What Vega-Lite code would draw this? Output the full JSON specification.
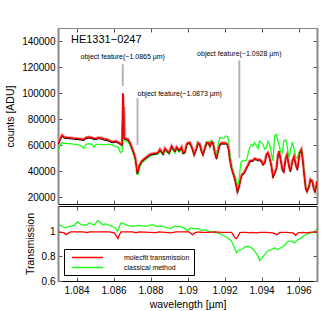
{
"$schema": "https://vega.github.io/schema/vega-lite/v6.json",
"padding": {"top": 27, "left": 5, "right": 5, "bottom": 5},
"spacing": 0,
"resolve": {"scale": {"color": "independent"}, "legend": {"color": "independent"}},
"config": {
  "font": "Liberation Sans",
  "view": {"stroke": "#888", "strokeWidth": 1},
  "axis": {"labelFontSize": 10, "titleFontSize": 10.5, "titleFontWeight": "normal", "labelColor": "#000", "titleColor": "#000", "grid": false, "tickColor": "#555", "tickSize": -4, "labelPadding": 7, "titlePadding": 6}
},
"datasets": {
  "spec": [
{"w":1.08303,"R":61800,"G":56400,"K":61000,"S":61800},
{"w":1.08311,"R":64900,"G":60300,"K":64100,"S":64900},
{"w":1.08322,"R":67900,"G":62000,"K":67100,"S":67900},
{"w":1.08332,"R":66400,"G":61600,"K":65600,"S":66400},
{"w":1.08349,"R":66000,"G":61400,"K":65200,"S":66000},
{"w":1.08365,"R":65900,"G":61300,"K":65100,"S":65900},
{"w":1.08381,"R":65600,"G":61000,"K":64800,"S":65600},
{"w":1.08397,"R":65400,"G":60800,"K":64600,"S":65400},
{"w":1.08413,"R":65100,"G":60300,"K":64300,"S":65100},
{"w":1.08424,"R":64900,"G":59500,"K":64100,"S":64900},
{"w":1.08440,"R":64500,"G":57700,"K":63700,"S":64500},
{"w":1.08451,"R":65900,"G":60800,"K":65100,"S":65900},
{"w":1.08467,"R":66400,"G":61300,"K":65600,"S":66400},
{"w":1.08484,"R":65900,"G":60800,"K":65100,"S":65900},
{"w":1.08494,"R":65200,"G":58700,"K":64400,"S":65200},
{"w":1.08505,"R":65400,"G":60800,"K":64600,"S":65400},
{"w":1.08521,"R":65900,"G":60800,"K":65100,"S":65900},
{"w":1.08538,"R":65600,"G":60600,"K":64800,"S":65600},
{"w":1.08548,"R":64900,"G":60300,"K":64100,"S":64900},
{"w":1.08565,"R":64500,"G":60800,"K":63700,"S":64500},
{"w":1.08575,"R":63900,"G":60800,"K":63100,"S":63900},
{"w":1.08592,"R":62800,"G":60300,"K":62000,"S":62800},
{"w":1.08602,"R":62900,"G":59500,"K":62100,"S":62900},
{"w":1.08613,"R":63300,"G":59100,"K":62500,"S":63300},
{"w":1.08624,"R":62600,"G":58700,"K":61800,"S":62600},
{"w":1.08632,"R":61800,"G":55700,"K":61000,"S":61800},
{"w":1.08640,"R":61000,"G":54400,"K":60200,"S":61000},
{"w":1.08647,"R":60800,"G":55700,"K":60000,"S":60800},
{"w":1.08649,"R":99400,"G":63300,"K":98600,"S":70000},
{"w":1.08654,"R":99000,"G":64600,"K":98200,"S":80000},
{"w":1.08657,"R":65600,"G":64500,"K":64800,"S":89400},
{"w":1.08662,"R":65400,"G":63300,"K":64600,"S":65400},
{"w":1.08678,"R":64600,"G":62600,"K":63800,"S":64600},
{"w":1.08689,"R":62000,"G":60300,"K":61200,"S":62000},
{"w":1.08700,"R":58200,"G":56400,"K":57400,"S":58200},
{"w":1.08710,"R":54100,"G":52600,"K":53300,"S":54100},
{"w":1.08718,"R":50300,"G":48800,"K":49500,"S":50300},
{"w":1.08724,"R":44200,"G":42600,"K":43400,"S":44200},
{"w":1.08728,"R":39600,"G":38000,"K":38200,"S":39600},
{"w":1.08734,"R":40300,"G":37800,"K":39500,"S":40300},
{"w":1.08737,"R":43400,"G":41100,"K":42600,"S":43400},
{"w":1.08743,"R":45500,"G":43800,"K":44700,"S":45500},
{"w":1.08753,"R":48000,"G":46500,"K":47200,"S":48000},
{"w":1.08770,"R":50100,"G":48800,"K":49300,"S":50100},
{"w":1.08786,"R":51800,"G":50700,"K":51000,"S":51800},
{"w":1.08797,"R":53100,"G":51800,"K":52300,"S":53100},
{"w":1.08813,"R":53700,"G":52600,"K":52900,"S":53700},
{"w":1.08829,"R":54100,"G":53000,"K":53300,"S":54100},
{"w":1.08841,"R":54400,"G":53400,"K":53600,"S":54400},
{"w":1.08851,"R":57000,"G":55700,"K":56200,"S":57000},
{"w":1.08860,"R":55100,"G":54100,"K":54300,"S":55100},
{"w":1.08868,"R":53600,"G":52600,"K":52800,"S":53600},
{"w":1.08878,"R":57700,"G":56400,"K":56900,"S":57700},
{"w":1.08887,"R":56200,"G":54900,"K":55400,"S":56200},
{"w":1.08901,"R":54400,"G":53400,"K":53600,"S":54400},
{"w":1.08914,"R":59500,"G":58000,"K":58700,"S":59500},
{"w":1.08922,"R":57700,"G":56400,"K":56900,"S":57700},
{"w":1.08932,"R":55700,"G":54100,"K":54900,"S":55700},
{"w":1.08941,"R":58700,"G":57200,"K":57900,"S":58700},
{"w":1.08955,"R":56200,"G":54900,"K":55400,"S":56200},
{"w":1.08968,"R":58700,"G":57600,"K":57900,"S":58700},
{"w":1.08976,"R":54400,"G":53400,"K":53600,"S":54400},
{"w":1.08986,"R":54900,"G":54100,"K":54100,"S":54900},
{"w":1.08995,"R":60800,"G":59900,"K":60000,"S":60800},
{"w":1.09003,"R":62000,"G":61400,"K":61200,"S":62000},
{"w":1.09013,"R":62000,"G":61400,"K":61200,"S":62000},
{"w":1.09025,"R":58200,"G":57700,"K":57400,"S":58200},
{"w":1.09036,"R":53100,"G":52600,"K":52300,"S":53100},
{"w":1.09049,"R":58200,"G":58000,"K":57400,"S":58200},
{"w":1.09057,"R":62000,"G":61800,"K":61200,"S":62000},
{"w":1.09067,"R":60800,"G":60600,"K":60000,"S":60800},
{"w":1.09076,"R":55700,"G":55700,"K":54900,"S":55700},
{"w":1.09084,"R":53100,"G":53000,"K":52300,"S":53100},
{"w":1.09094,"R":58200,"G":58700,"K":57400,"S":58200},
{"w":1.09103,"R":62000,"G":62600,"K":61200,"S":62000},
{"w":1.09115,"R":62000,"G":62600,"K":61200,"S":62000},
{"w":1.09121,"R":59500,"G":60300,"K":58700,"S":59500},
{"w":1.09130,"R":62800,"G":63700,"K":62000,"S":62800},
{"w":1.09138,"R":62000,"G":62900,"K":61200,"S":62000},
{"w":1.09148,"R":54400,"G":55700,"K":53600,"S":54400},
{"w":1.09157,"R":50100,"G":51800,"K":49300,"S":50100},
{"w":1.09165,"R":55700,"G":60300,"K":54900,"S":55700},
{"w":1.09175,"R":60800,"G":65900,"K":60000,"S":60800},
{"w":1.09187,"R":62000,"G":65400,"K":61200,"S":62000},
{"w":1.09198,"R":61600,"G":65600,"K":60800,"S":61600},
{"w":1.09205,"R":62000,"G":67200,"K":61200,"S":62000},
{"w":1.09216,"R":60800,"G":66800,"K":60000,"S":60800},
{"w":1.09223,"R":57000,"G":63300,"K":56200,"S":57000},
{"w":1.09228,"R":50500,"G":54100,"K":49700,"S":50500},
{"w":1.09238,"R":42900,"G":44200,"K":42100,"S":42900},
{"w":1.09246,"R":39000,"G":40300,"K":38200,"S":39000},
{"w":1.09255,"R":35200,"G":36500,"K":34400,"S":35200},
{"w":1.09265,"R":28800,"G":31100,"K":27400,"S":28800},
{"w":1.09270,"R":25000,"G":28000,"K":23400,"S":25000},
{"w":1.09279,"R":28800,"G":34200,"K":27800,"S":28800},
{"w":1.09288,"R":35200,"G":46500,"K":34400,"S":35200},
{"w":1.09295,"R":37800,"G":48000,"K":37000,"S":37800},
{"w":1.09306,"R":39000,"G":48000,"K":38200,"S":39000},
{"w":1.09319,"R":42900,"G":48500,"K":42100,"S":42900},
{"w":1.09327,"R":44900,"G":53100,"K":44100,"S":44900},
{"w":1.09336,"R":48000,"G":58200,"K":47200,"S":48000},
{"w":1.09346,"R":48400,"G":60800,"K":47600,"S":48400},
{"w":1.09354,"R":48500,"G":59500,"K":47700,"S":48500},
{"w":1.09363,"R":49900,"G":62000,"K":49100,"S":49900},
{"w":1.09373,"R":49500,"G":59500,"K":48700,"S":49500},
{"w":1.09381,"R":48800,"G":57700,"K":48000,"S":48800},
{"w":1.09390,"R":49100,"G":63300,"K":48300,"S":49100},
{"w":1.09400,"R":48000,"G":62000,"K":47200,"S":48000},
{"w":1.09408,"R":45500,"G":60800,"K":44700,"S":45500},
{"w":1.09417,"R":46700,"G":57000,"K":45900,"S":46700},
{"w":1.09427,"R":53100,"G":58200,"K":52300,"S":53100},
{"w":1.09435,"R":54400,"G":63300,"K":53600,"S":54400},
{"w":1.09444,"R":50500,"G":60800,"K":49700,"S":50500},
{"w":1.09454,"R":44200,"G":53100,"K":43400,"S":44200},
{"w":1.09462,"R":36500,"G":48000,"K":35000,"S":36500},
{"w":1.09471,"R":38800,"G":67200,"K":38000,"S":38800},
{"w":1.09481,"R":42900,"G":68500,"K":42100,"S":42900},
{"w":1.09489,"R":52600,"G":63300,"K":51800,"S":52600},
{"w":1.09495,"R":55700,"G":60300,"K":54900,"S":55700},
{"w":1.09502,"R":50500,"G":55700,"K":49700,"S":50500},
{"w":1.09513,"R":41600,"G":54100,"K":40800,"S":41600},
{"w":1.09520,"R":40300,"G":63300,"K":39000,"S":40300},
{"w":1.09531,"R":50500,"G":64100,"K":49700,"S":50500},
{"w":1.09538,"R":53100,"G":59500,"K":52300,"S":53100},
{"w":1.09549,"R":44200,"G":50300,"K":43400,"S":44200},
{"w":1.09556,"R":40300,"G":55700,"K":39500,"S":40300},
{"w":1.09567,"R":48000,"G":62600,"K":47200,"S":48000},
{"w":1.09576,"R":51800,"G":57200,"K":51000,"S":51800},
{"w":1.09585,"R":45500,"G":51100,"K":44700,"S":45500},
{"w":1.09594,"R":41600,"G":50300,"K":40800,"S":41600},
{"w":1.09606,"R":54400,"G":55700,"K":53600,"S":54400},
{"w":1.09616,"R":57000,"G":57000,"K":56200,"S":57000},
{"w":1.09624,"R":48000,"G":49500,"K":47200,"S":48000},
{"w":1.09630,"R":39000,"G":39600,"K":38200,"S":39000},
{"w":1.09639,"R":27500,"G":27500,"K":26300,"S":27500},
{"w":1.09646,"R":25000,"G":25000,"K":24000,"S":25000},
{"w":1.09657,"R":28800,"G":28800,"K":28000,"S":28800},
{"w":1.09664,"R":33900,"G":33900,"K":33100,"S":33900},
{"w":1.09675,"R":32600,"G":32600,"K":31800,"S":32600},
{"w":1.09682,"R":27500,"G":27500,"K":26700,"S":27500},
{"w":1.09689,"R":25000,"G":25000,"K":24000,"S":25000},
{"w":1.09697,"R":30100,"G":30100,"K":29300,"S":30100},
{"w":1.09700,"R":32600,"G":32600,"K":31800,"S":32600}
  ],
  "trans": [
{"w":1.08304,"s":"classical method","t":1.058},
{"w":1.08334,"s":"classical method","t":1.037},
{"w":1.08343,"s":"classical method","t":1.032},
{"w":1.08361,"s":"classical method","t":1.045},
{"w":1.08388,"s":"classical method","t":1.053},
{"w":1.08406,"s":"classical method","t":1.080},
{"w":1.08424,"s":"classical method","t":1.058},
{"w":1.08451,"s":"classical method","t":1.053},
{"w":1.08469,"s":"classical method","t":1.072},
{"w":1.08496,"s":"classical method","t":1.053},
{"w":1.08514,"s":"classical method","t":1.091},
{"w":1.08523,"s":"classical method","t":1.086},
{"w":1.08541,"s":"classical method","t":1.058},
{"w":1.08559,"s":"classical method","t":1.064},
{"w":1.08577,"s":"classical method","t":1.053},
{"w":1.08595,"s":"classical method","t":1.045},
{"w":1.08609,"s":"classical method","t":1.032},
{"w":1.08622,"s":"classical method","t":1.005},
{"w":1.08640,"s":"classical method","t":1.072},
{"w":1.08658,"s":"classical method","t":1.064},
{"w":1.08676,"s":"classical method","t":1.053},
{"w":1.08703,"s":"classical method","t":1.045},
{"w":1.08739,"s":"classical method","t":1.053},
{"w":1.08775,"s":"classical method","t":1.045},
{"w":1.08811,"s":"classical method","t":1.058},
{"w":1.08829,"s":"classical method","t":1.045},
{"w":1.08865,"s":"classical method","t":1.045},
{"w":1.08892,"s":"classical method","t":1.032},
{"w":1.08910,"s":"classical method","t":1.026},
{"w":1.08928,"s":"classical method","t":1.045},
{"w":1.08955,"s":"classical method","t":1.045},
{"w":1.08982,"s":"classical method","t":1.032},
{"w":1.09000,"s":"classical method","t":1.010},
{"w":1.09018,"s":"classical method","t":1.032},
{"w":1.09036,"s":"classical method","t":1.026},
{"w":1.09057,"s":"classical method","t":1.026},
{"w":1.09076,"s":"classical method","t":1.010},
{"w":1.09094,"s":"classical method","t":1.018},
{"w":1.09111,"s":"classical method","t":1.005},
{"w":1.09138,"s":"classical method","t":1.000},
{"w":1.09165,"s":"classical method","t":0.991},
{"w":1.09192,"s":"classical method","t":0.972},
{"w":1.09211,"s":"classical method","t":0.956},
{"w":1.09228,"s":"classical method","t":0.937},
{"w":1.09238,"s":"classical method","t":0.924},
{"w":1.09246,"s":"classical method","t":0.896},
{"w":1.09265,"s":"classical method","t":0.829},
{"w":1.09273,"s":"classical method","t":0.848},
{"w":1.09292,"s":"classical method","t":0.856},
{"w":1.09309,"s":"classical method","t":0.875},
{"w":1.09327,"s":"classical method","t":0.883},
{"w":1.09346,"s":"classical method","t":0.870},
{"w":1.09363,"s":"classical method","t":0.843},
{"w":1.09381,"s":"classical method","t":0.802},
{"w":1.09390,"s":"classical method","t":0.767},
{"w":1.09400,"s":"classical method","t":0.783},
{"w":1.09417,"s":"classical method","t":0.815},
{"w":1.09436,"s":"classical method","t":0.848},
{"w":1.09454,"s":"classical method","t":0.856},
{"w":1.09471,"s":"classical method","t":0.870},
{"w":1.09489,"s":"classical method","t":0.856},
{"w":1.09508,"s":"classical method","t":0.875},
{"w":1.09525,"s":"classical method","t":0.891},
{"w":1.09543,"s":"classical method","t":0.924},
{"w":1.09562,"s":"classical method","t":0.924},
{"w":1.09579,"s":"classical method","t":0.910},
{"w":1.09597,"s":"classical method","t":0.937},
{"w":1.09616,"s":"classical method","t":0.951},
{"w":1.09633,"s":"classical method","t":0.972},
{"w":1.09651,"s":"classical method","t":0.983},
{"w":1.09669,"s":"classical method","t":0.991},
{"w":1.09687,"s":"classical method","t":1.000},
{"w":1.09700,"s":"classical method","t":1.026},
{"w":1.08304,"s":"molecfit transmission","t":1.000},
{"w":1.08334,"s":"molecfit transmission","t":0.991},
{"w":1.08343,"s":"molecfit transmission","t":0.977},
{"w":1.08358,"s":"molecfit transmission","t":0.991},
{"w":1.08370,"s":"molecfit transmission","t":0.999},
{"w":1.08433,"s":"molecfit transmission","t":0.999},
{"w":1.08460,"s":"molecfit transmission","t":0.993},
{"w":1.08469,"s":"molecfit transmission","t":0.999},
{"w":1.08577,"s":"molecfit transmission","t":0.999},
{"w":1.08604,"s":"molecfit transmission","t":0.991},
{"w":1.08617,"s":"molecfit transmission","t":0.964},
{"w":1.08624,"s":"molecfit transmission","t":0.945},
{"w":1.08631,"s":"molecfit transmission","t":0.972},
{"w":1.08640,"s":"molecfit transmission","t":0.999},
{"w":1.08703,"s":"molecfit transmission","t":0.999},
{"w":1.08721,"s":"molecfit transmission","t":0.991},
{"w":1.08739,"s":"molecfit transmission","t":0.999},
{"w":1.08829,"s":"molecfit transmission","t":0.993},
{"w":1.08847,"s":"molecfit transmission","t":0.999},
{"w":1.08910,"s":"molecfit transmission","t":0.991},
{"w":1.08937,"s":"molecfit transmission","t":0.999},
{"w":1.09009,"s":"molecfit transmission","t":0.999},
{"w":1.09027,"s":"molecfit transmission","t":0.977},
{"w":1.09040,"s":"molecfit transmission","t":0.991},
{"w":1.09057,"s":"molecfit transmission","t":1.000},
{"w":1.09076,"s":"molecfit transmission","t":0.995},
{"w":1.09111,"s":"molecfit transmission","t":0.995},
{"w":1.09147,"s":"molecfit transmission","t":1.000},
{"w":1.09184,"s":"molecfit transmission","t":0.995},
{"w":1.09238,"s":"molecfit transmission","t":0.995},
{"w":1.09246,"s":"molecfit transmission","t":0.977},
{"w":1.09255,"s":"molecfit transmission","t":0.956},
{"w":1.09265,"s":"molecfit transmission","t":0.945},
{"w":1.09273,"s":"molecfit transmission","t":0.964},
{"w":1.09282,"s":"molecfit transmission","t":0.991},
{"w":1.09292,"s":"molecfit transmission","t":0.995},
{"w":1.09318,"s":"molecfit transmission","t":0.995},
{"w":1.09336,"s":"molecfit transmission","t":0.991},
{"w":1.09346,"s":"molecfit transmission","t":0.995},
{"w":1.09373,"s":"molecfit transmission","t":0.991},
{"w":1.09390,"s":"molecfit transmission","t":0.995},
{"w":1.09427,"s":"molecfit transmission","t":0.995},
{"w":1.09462,"s":"molecfit transmission","t":0.991},
{"w":1.09484,"s":"molecfit transmission","t":0.977},
{"w":1.09498,"s":"molecfit transmission","t":0.995},
{"w":1.09535,"s":"molecfit transmission","t":0.995},
{"w":1.09570,"s":"molecfit transmission","t":0.991},
{"w":1.09585,"s":"molecfit transmission","t":0.972},
{"w":1.09597,"s":"molecfit transmission","t":0.991},
{"w":1.09624,"s":"molecfit transmission","t":0.995},
{"w":1.09642,"s":"molecfit transmission","t":0.991},
{"w":1.09660,"s":"molecfit transmission","t":0.995},
{"w":1.09687,"s":"molecfit transmission","t":1.000},
{"w":1.09700,"s":"molecfit transmission","t":1.000}
  ],
  "rules": [
{"w":1.0865,"y1":105500,"y2":122200},
{"w":1.0873,"y1":60300,"y2":96100},
{"w":1.0928,"y1":50300,"y2":125200}
  ],
  "annC": [
{"w":1.0865,"c":128000,"label":"object feature(~1.0865 µm)"},
{"w":1.0928,"c":130300,"label":"object feature(~1.0928 µm)"}
  ],
  "annL": [
{"w":1.0873,"c":99600,"label":"object feature(~1.0873 µm)"}
  ],
  "ttl": [
{"w":1.0837,"c":140800,"label":"HE1331−0247"}
  ]
},
"vconcat": [
  {
    "width": 259, "height": 176,
    "resolve": {"axis": {"x": "independent", "y": "independent"}},
    "layer": [
      {"data": {"name": "spec"}, "mark": {"type": "line", "color": "#f29a9a", "strokeWidth": 3, "clip": true},
       "encoding": {
         "x": {"field": "w", "type": "quantitative", "scale": {"domain": [1.083, 1.097], "nice": false, "zero": false},
               "axis": {"labels": false, "title": null, "values": [1.084,1.086,1.088,1.09,1.092,1.094,1.096], "domainColor": "#000"}},
         "y": {"field": "S", "type": "quantitative", "scale": {"domain": [15000, 150000], "nice": false, "zero": false},
               "axis": {"title": "counts [ADU]", "values": [20000,40000,60000,80000,100000,120000,140000], "format": "d", "domainColor": "#888", "domainWidth": 2}}
       }},
      {"data": {"name": "spec"}, "mark": {"type": "line", "color": "#1aff1a", "strokeWidth": 1.3, "clip": true},
       "encoding": {"x": {"field": "w", "type": "quantitative", "axis": null}, "y": {"field": "G", "type": "quantitative", "axis": null}}},
      {"data": {"name": "spec"}, "mark": {"type": "line", "color": "#000000", "strokeWidth": 1, "clip": true},
       "encoding": {"x": {"field": "w", "type": "quantitative", "axis": null}, "y": {"field": "K", "type": "quantitative", "axis": null}}},
      {"data": {"name": "spec"}, "mark": {"type": "line", "color": "#ff0000", "strokeWidth": 1.3, "clip": true},
       "encoding": {"x": {"field": "w", "type": "quantitative", "axis": null}, "y": {"field": "R", "type": "quantitative", "axis": null}}},
      {"data": {"name": "rules"}, "mark": {"type": "rule", "color": "#b4b4b4", "strokeWidth": 2},
       "encoding": {
         "x": {"field": "w", "type": "quantitative", "axis": {"orient": "top", "labels": false, "title": null, "values": [1.084,1.086,1.088,1.09,1.092,1.094,1.096], "domainColor": "#888"}},
         "y": {"field": "y1", "type": "quantitative", "axis": {"orient": "right", "labels": false, "title": null, "values": [20000,40000,60000,80000,100000,120000,140000], "domainColor": "#888", "domainWidth": 2}},
         "y2": {"field": "y2"}}},
      {"data": {"name": "annC"}, "mark": {"type": "text", "fontSize": 7, "align": "center", "baseline": "middle", "color": "#000"},
       "encoding": {"x": {"field": "w", "type": "quantitative", "axis": null}, "y": {"field": "c", "type": "quantitative", "axis": null}, "text": {"field": "label"}}},
      {"data": {"name": "annL"}, "mark": {"type": "text", "fontSize": 7, "align": "left", "baseline": "middle", "color": "#000"},
       "encoding": {"x": {"field": "w", "type": "quantitative", "axis": null}, "y": {"field": "c", "type": "quantitative", "axis": null}, "text": {"field": "label"}}},
      {"data": {"name": "ttl"}, "mark": {"type": "text", "fontSize": 11, "align": "left", "baseline": "middle", "color": "#000"},
       "encoding": {"x": {"field": "w", "type": "quantitative", "axis": null}, "y": {"field": "c", "type": "quantitative", "axis": null}, "text": {"field": "label"}}}
    ]
  },
  {
    "width": 259, "height": 75,
    "resolve": {"axis": {"x": "independent", "y": "independent"}},
    "layer": [
      {"mark": {"type": "rule", "color": "#888", "strokeWidth": 1},
       "encoding": {"y": {"datum": 1, "type": "quantitative", "scale": {"domain": [0.6, 1.21], "nice": false, "zero": false},
         "axis": {"title": "Transmission", "values": [0.6, 0.8, 1], "format": "~g", "domainColor": "#888", "domainWidth": 2}}}},
      {"data": {"name": "trans"}, "mark": {"type": "line", "strokeWidth": 1.3, "clip": true},
       "encoding": {
         "x": {"field": "w", "type": "quantitative", "scale": {"domain": [1.083, 1.097], "nice": false, "zero": false},
               "axis": {"title": "wavelength [µm]", "values": [1.084,1.086,1.088,1.09,1.092,1.094,1.096], "format": "~f", "domainColor": "#000", "labelPadding": 8, "titlePadding": 4}},
         "y": {"field": "t", "type": "quantitative", "axis": null},
         "color": {"field": "s", "type": "nominal",
                   "scale": {"domain": ["molecfit transmission", "classical method"], "range": ["#ff0000", "#1aff1a"]},
                   "legend": {"title": null, "orient": "bottom-left", "offset": 6, "symbolType": "M-4.43,0H4.43", "symbolSize": 49, "symbolStrokeWidth": 1.3, "symbolOffset": 15,
                              "strokeColor": "#000", "fillColor": "#fff", "padding": 4, "labelFontSize": 7, "rowPadding": 2, "labelOffset": 32}}
       }},
      {"data": {"name": "trans"}, "mark": {"type": "line", "strokeOpacity": 0, "clip": true},
       "encoding": {
         "x": {"field": "w", "type": "quantitative", "axis": {"orient": "top", "labels": false, "title": null, "values": [1.084,1.086,1.088,1.09,1.092,1.094,1.096], "domainColor": "#000"}},
         "y": {"field": "t", "type": "quantitative", "axis": {"orient": "right", "labels": false, "title": null, "values": [0.6, 0.8, 1], "domainColor": "#888", "domainWidth": 2}},
         "detail": {"field": "s"}
       }}
    ]
  }
]
}
